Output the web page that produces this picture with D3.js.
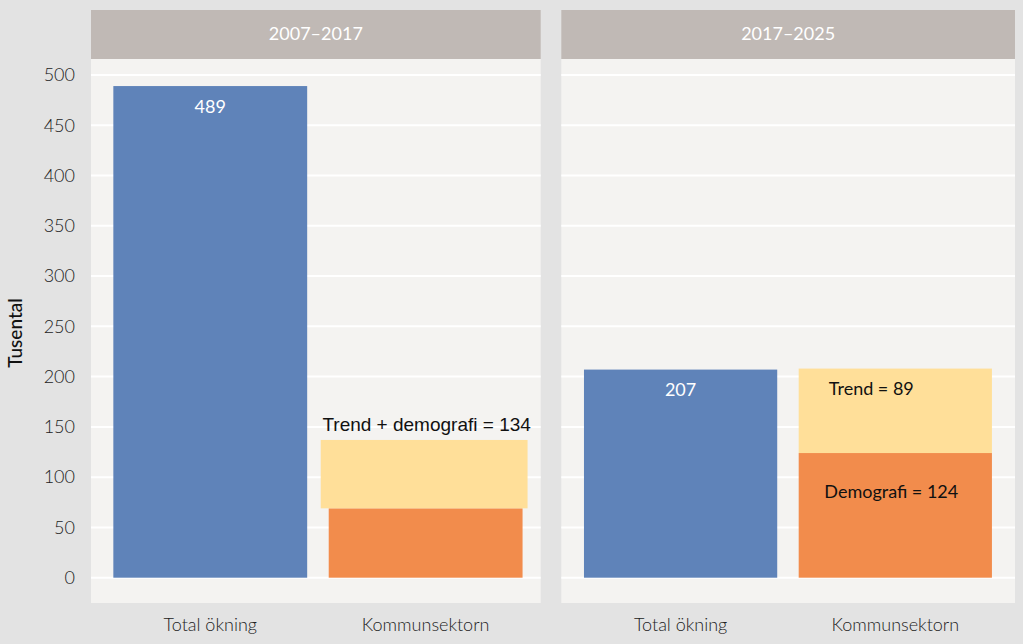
<!DOCTYPE html>
<html>
<head>
<meta charset="utf-8">
<script src="https://cdn.jsdelivr.net/npm/d3@7"></script>
<style>
  html, body { margin: 0; padding: 0; background: #e3e3e3; }
  svg { display: block; }
</style>
</head>
<body>
<svg id="chart" width="1023" height="644"></svg>
<script>
// ---- data ----
const periods = ["2007–2017", "2017–2025"];
const categories = ["Total ökning", "Kommunsektorn"];
const totalIncrease = [489, 207];
const demografi = [69, 124];
const trend = [68, 84];
const yTicks = [0, 50, 100, 150, 200, 250, 300, 350, 400, 450, 500];
const totalLabels = ["489", "207"];
const stackLabels = [
  [{ text: "Trend + demografi = 134", part: "top", font: "Liberation Sans, Arial, sans-serif", size: 19 }],
  [{ text: "Trend = 89", part: "trend", font: "Lato, sans-serif", size: 18 },
   { text: "Demografi = 124", part: "demografi", font: "Lato, sans-serif", size: 18 }]
];
const yTitle = "Tusental";

// ---- layout ----
const svg = d3.select("#chart");
const panels = [
  { x0: 91, x1: 540.7, band: [91.8, 544.1] },
  { x0: 561.3, x1: 1015, band: [562.5, 1013.4] }
];
const stripTop = 10, stripBottom = 59, panelBottom = 603;
const y = d3.scaleLinear().domain([0, 500]).range([577.7, 75]);

const colBlue = "#5f83b9", colYellow = "#ffdf99", colOrange = "#f28c4c";
const fontMain = "Lato, sans-serif";

periods.forEach((p, i) => {
  const P = panels[i];
  const g = svg.append("g");
  g.append("rect").attr("x", P.x0).attr("y", stripBottom)
    .attr("width", P.x1 - P.x0).attr("height", panelBottom - stripBottom)
    .attr("fill", "#f4f3f1");
  g.append("rect").attr("x", P.x0).attr("y", stripTop)
    .attr("width", P.x1 - P.x0).attr("height", stripBottom - stripTop)
    .attr("fill", "#c0b9b5");
  g.append("text").attr("x", (P.x0 + P.x1) / 2).attr("y", (stripTop + stripBottom) / 2 + 1)
    .attr("text-anchor", "middle").attr("dominant-baseline", "middle")
    .attr("font-family", fontMain).attr("font-size", 18)
    .attr("fill", "#ffffff").text(p);
  g.selectAll(".grid").data(yTicks).enter().append("line")
    .attr("x1", P.x0).attr("x2", P.x1)
    .attr("y1", d => y(d)).attr("y2", d => y(d))
    .attr("stroke", "#ffffff").attr("stroke-width", 2);

  const x = d3.scaleBand().domain(categories).range(P.band)
    .paddingInner(0.1).paddingOuter(0.1);
  const bw = x.bandwidth();

  g.append("rect").attr("x", x(categories[0])).attr("y", y(totalIncrease[i]))
    .attr("width", bw).attr("height", y(0) - y(totalIncrease[i]))
    .attr("fill", colBlue);
  g.append("text").attr("x", x(categories[0]) + bw / 2).attr("y", y(totalIncrease[i]) + 22)
    .attr("text-anchor", "middle").attr("dominant-baseline", "middle")
    .attr("font-family", fontMain).attr("font-size", 18).attr("fill", "#ffffff")
    .text(totalLabels[i]);

  const xs = x(categories[1]);
  g.append("rect").attr("x", xs).attr("y", y(demografi[i]))
    .attr("width", bw).attr("height", y(0) - y(demografi[i]))
    .attr("fill", colOrange);
  const widen = i === 0 ? { l: 8, r: 5 } : { l: 0, r: 0 };
  const top = demografi[i] + trend[i];
  g.append("rect").attr("x", xs - widen.l).attr("y", y(top))
    .attr("width", bw + widen.l + widen.r).attr("height", y(demografi[i]) - y(top))
    .attr("fill", colYellow);

  stackLabels[i].forEach(L => {
    let lx, ly;
    if (L.part === "top") { lx = xs + bw / 2 + 1; ly = y(top) - 14; }
    else if (L.part === "trend") { lx = xs + bw / 2 - 24; ly = y(top) + 22; }
    else { lx = xs + bw / 2 - 4; ly = y(demografi[i]) + 40; }
    g.append("text").attr("x", lx).attr("y", ly)
      .attr("text-anchor", "middle").attr("dominant-baseline", "middle")
      .attr("font-family", L.font).attr("font-size", L.size).attr("fill", "#111111")
      .text(L.text);
  });

  const xAxis = d3.axisBottom(x).tickSize(0).tickPadding(0);
  const ax = svg.append("g").attr("transform", `translate(0,${panelBottom + 15})`).call(xAxis);
  ax.select(".domain").remove();
  ax.selectAll("text").attr("font-family", fontMain).attr("font-size", 18)
    .attr("font-weight", 300).attr("fill", "#222222").attr("dy", "0.71em");
});

const yAxis = d3.axisLeft(y).tickValues(yTicks).tickSize(0).tickPadding(0);
const ya = svg.append("g").attr("transform", "translate(75,0)").call(yAxis);
ya.select(".domain").remove();
ya.selectAll("text").attr("font-family", fontMain).attr("font-size", 18)
  .attr("font-weight", 300).attr("fill", "#222222");

svg.append("text").attr("transform", `translate(22,333) rotate(-90)`)
  .attr("text-anchor", "middle").attr("font-family", fontMain).attr("font-size", 19)
  .attr("font-weight", 500).attr("fill", "#111111").text(yTitle);
</script>
</body>
</html>
